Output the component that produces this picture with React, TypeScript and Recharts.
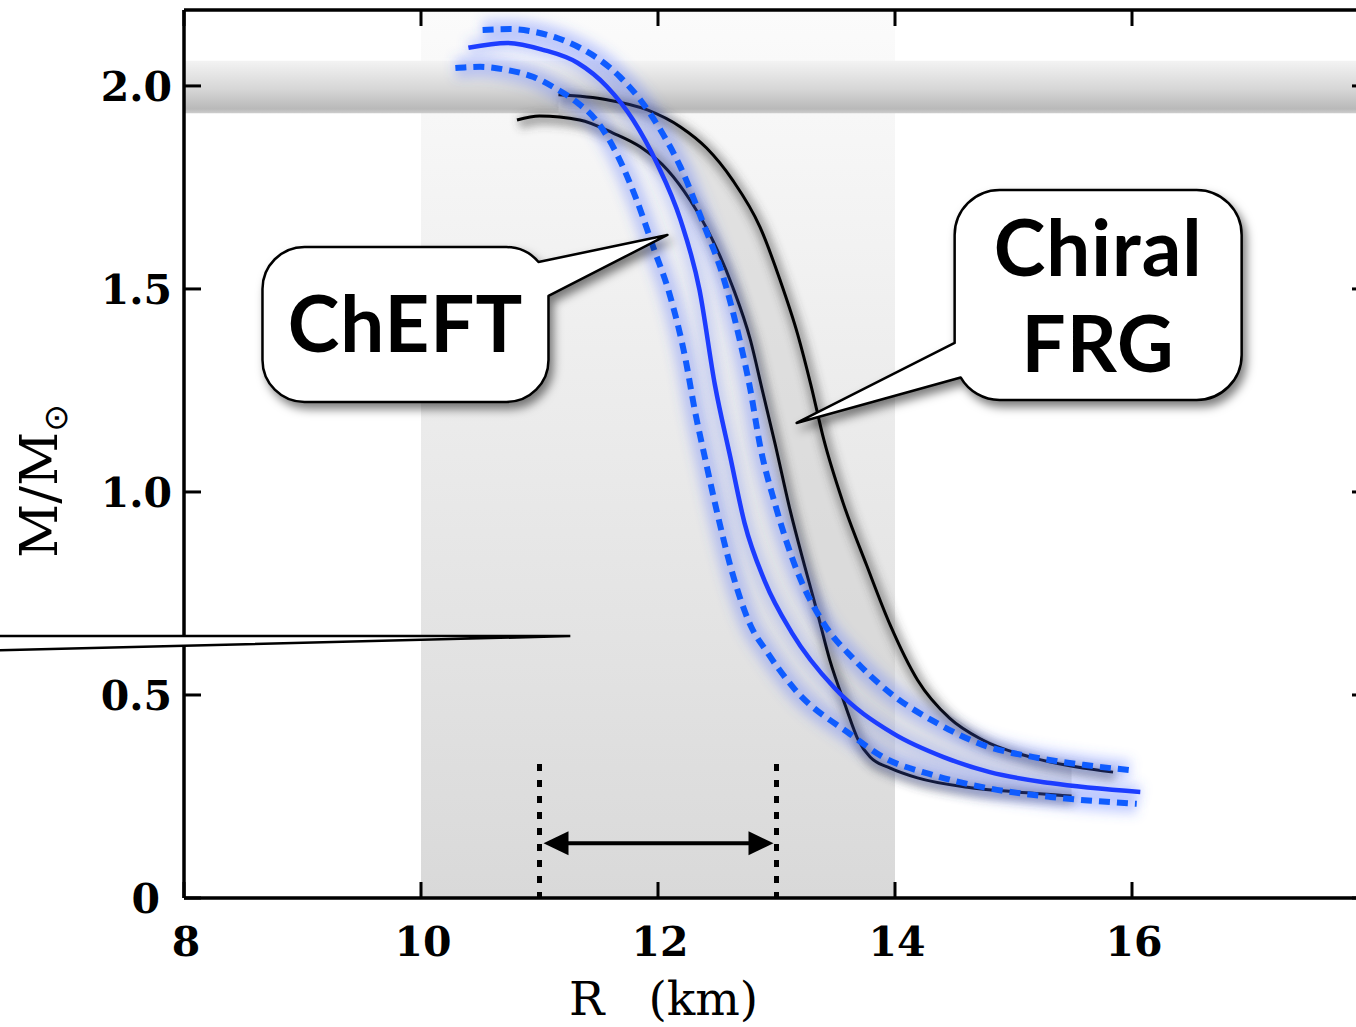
import React from 'react';
import {
  ComposedChart,
  Line,
  Area,
  XAxis,
  YAxis,
  Label,
  ReferenceArea,
  ReferenceLine,
  ReferenceDot,
} from 'recharts';

// axis ticks
const xTicks = [8, 10, 12, 14, 16];
const yTicks = [0, 0.5, 1, 1.5, 2];

// ChEFT band (blue): [R in km, M/Msun]
const chEftMid = [
  [10.4, 2.094], [10.73, 2.106], [11.03, 2.089], [11.32, 2.057], [11.57, 1.998],
  [11.79, 1.916], [11.99, 1.81], [12.19, 1.67], [12.35, 1.498], [12.48, 1.264],
  [12.61, 1.086], [12.73, 0.924], [12.9, 0.781], [13.13, 0.653], [13.49, 0.517],
  [13.98, 0.406], [14.41, 0.347], [14.8, 0.31], [15.31, 0.283], [16.07, 0.261],
];
const chEftUpper = [
  [10.52, 2.138], [10.75, 2.14], [10.96, 2.133], [11.15, 2.118], [11.34, 2.094],
  [11.51, 2.064], [11.68, 2.022], [11.85, 1.966], [12.02, 1.892], [12.19, 1.8],
  [12.38, 1.663], [12.55, 1.53], [12.69, 1.374], [12.78, 1.251], [12.86, 1.116],
  [12.99, 0.968], [13.17, 0.808], [13.39, 0.68], [13.66, 0.586], [13.98, 0.5],
  [14.34, 0.433], [14.74, 0.377], [15.17, 0.347], [15.59, 0.328], [15.98, 0.315],
];
const chEftLower = [
  [10.29, 2.044], [10.5, 2.047], [10.73, 2.039], [10.95, 2.022], [11.13, 1.995],
  [11.3, 1.963], [11.49, 1.911], [11.66, 1.828], [11.82, 1.719], [11.96, 1.603],
  [12.1, 1.485], [12.23, 1.33], [12.31, 1.202], [12.4, 1.079], [12.5, 0.948],
  [12.62, 0.808], [12.78, 0.672], [12.92, 0.606], [13.16, 0.512], [13.62, 0.404],
  [13.9, 0.347], [14.32, 0.303], [14.74, 0.273], [15.31, 0.249], [16.04, 0.232],
];

// Chiral FRG (black) boundaries
const frgLeft = [
  [10.81, 1.916], [11.0, 1.926], [11.34, 1.916], [11.62, 1.884], [11.85, 1.85],
  [12.08, 1.793], [12.27, 1.719], [12.46, 1.621], [12.63, 1.505], [12.78, 1.374],
  [12.88, 1.251], [12.99, 1.116], [13.11, 0.961], [13.24, 0.815], [13.35, 0.697],
  [13.45, 0.586], [13.58, 0.475], [13.69, 0.389], [13.79, 0.347], [13.96, 0.32],
  [14.19, 0.296], [14.61, 0.273], [15.03, 0.261], [15.49, 0.251],
];
const frgRight = [
  [11.16, 1.978], [11.57, 1.966], [11.91, 1.941], [12.19, 1.899], [12.41, 1.847],
  [12.63, 1.768], [12.86, 1.653], [13.03, 1.522], [13.18, 1.387], [13.29, 1.264],
  [13.4, 1.128], [13.56, 0.975], [13.76, 0.82], [13.96, 0.672], [14.19, 0.537],
  [14.46, 0.443], [14.74, 0.389], [15.17, 0.345], [15.84, 0.31],
];
// gray gap between the two FRG curves: R, lower M, upper M
const frgGapR = [11.16, 11.6, 12.0, 12.4, 12.8, 13.0, 13.2, 13.4, 13.6, 13.8, 14.0, 14.2, 14.6, 15.0, 15.49];
const frgGapLo = [1.92, 1.886, 1.81, 1.655, 1.35, 1.105, 0.86, 0.64, 0.46, 0.345, 0.317, 0.296, 0.274, 0.262, 0.251];
const frgGapHi = [1.978, 1.965, 1.93, 1.85, 1.685, 1.545, 1.375, 1.13, 0.94, 0.79, 0.65, 0.53, 0.425, 0.36, 0.334];

// shaded regions and markers
const radiusBand = [10, 14];
const maxMassBand = [1.933, 2.062];
const arrowRange = [11, 13];
const arrowMass = 0.135;
const dottedTop = 0.33;

// callout tips
const cheftTip = [12.08, 1.633];
const frgTip = [13.17, 1.17];
const outerTip = [11.26, 0.645];

const toPts = (arr: number[][]) => arr.map(([x, y]) => ({ x, y }));
const gapData = frgGapR.map((x, i) => ({ x, range: [frgGapLo[i], frgGapHi[i]] }));

const serif = 'DejaVu Serif';
const sans = 'Lato, "Open Sans", sans-serif';

const BottomTick = (p: any) => (
  <g>
    <line x1={p.x} y1={p.y} x2={p.x} y2={p.y - 16} stroke="#000" strokeWidth={3} />
    <text x={p.x + 2} y={p.y + 58} textAnchor="middle" fontFamily={serif} fontWeight="bold" fontSize={41} fill="#000">
      {p.payload.value}
    </text>
  </g>
);

const TopTick = (p: any) => (
  <line x1={p.x} y1={p.y} x2={p.x} y2={p.y + 16} stroke="#000" strokeWidth={3} />
);

const LeftTick = (p: any) => {
  const v = p.payload.value;
  return (
    <g>
      <line x1={p.x} y1={p.y} x2={p.x + 17} y2={p.y} stroke="#000" strokeWidth={3} />
      <text x={v === 0 ? p.x - 24 : p.x - 12} y={p.y + 15} textAnchor="end" fontFamily={serif} fontWeight="bold" fontSize={41} fill="#000">
        {v === 0 ? '0' : v.toFixed(1)}
      </text>
    </g>
  );
};

const RightTick = (p: any) => (
  <line x1={p.x} y1={p.y} x2={p.x - 17} y2={p.y} stroke="#000" strokeWidth={3} />
);

const XTitle = (props: any) => {
  const vb = props.viewBox || { x: 184, y: 898 };
  return (
    <text x={vb.x + 385} y={vb.y + 117} fontFamily={serif} fontSize={47} fill="#000">
      R<tspan dx={44}>(km)</tspan>
    </text>
  );
};

const YTitle = (props: any) => {
  const vb = props.viewBox || { x: 184 };
  return (
    <text transform={`translate(${vb.x - 126},481) rotate(-90)`} textAnchor="middle" fontFamily={serif} fontSize={53} fill="#000">
      M/M<tspan fontSize={33} dy={10} fontFamily="DejaVu Sans">⊙</tspan>
    </text>
  );
};

const shadow = { filter: 'drop-shadow(4px 6px 5px rgba(0,0,0,0.5))' };
const calloutFont = { fontFamily: sans, fontWeight: 'bold' as const, fontSize: 78, letterSpacing: 1 };

// rounded box with a pointer at its upper right corner, tip at (0,0)
const CheftCallout = ({ cx, cy }: any) => {
  const L = -405, T = 12, R = -119, B = 167, r = 42;
  const d = `M ${L + r} ${T} H ${R - r} A ${r} ${r} 0 0 1 -129 27 L 0 0 L ${R} 61 V ${B - r} A ${r} ${r} 0 0 1 ${R - r} ${B} H ${L + r} A ${r} ${r} 0 0 1 ${L} ${B - r} V ${T + r} A ${r} ${r} 0 0 1 ${L + r} ${T} Z`;
  return (
    <g transform={`translate(${cx},${cy})`} style={shadow}>
      <path d={d} fill="#fff" stroke="#000" strokeWidth={2.5} strokeLinejoin="round" />
      <text x={(L + R) / 2} y={117} textAnchor="middle" fill="#000" {...calloutFont}>ChEFT</text>
    </g>
  );
};

const FrgCallout = ({ cx, cy }: any) => {
  const L = 158, T = -233, R = 445, B = -23, r = 45;
  const d = `M ${L + r} ${T} H ${R - r} A ${r} ${r} 0 0 1 ${R} ${T + r} V ${B - r} A ${r} ${r} 0 0 1 ${R - r} ${B} H ${L + r} A ${r} ${r} 0 0 1 164 -45.5 L 0 0 L ${L} -80 V ${T + r} A ${r} ${r} 0 0 1 ${L + r} ${T} Z`;
  return (
    <g transform={`translate(${cx},${cy})`} style={shadow}>
      <path d={d} fill="#fff" stroke="#000" strokeWidth={2.5} strokeLinejoin="round" />
      <text x={(L + R) / 2} y={-147} textAnchor="middle" fill="#000" {...calloutFont}>Chiral</text>
      <text x={(L + R) / 2} y={-51} textAnchor="middle" fill="#000" {...calloutFont}>FRG</text>
    </g>
  );
};

const OuterPointer = ({ cx, cy }: any) => (
  <g transform={`translate(${cx},${cy})`}>
    <path d="M 0 0 L -600 0 L -600 15 Z" fill="#fff" stroke="#000" strokeWidth={2.5} strokeLinejoin="miter" />
  </g>
);

const DoubleArrow = (p: any) => {
  const y = p.y1;
  const a = Math.min(p.x1, p.x2) + 4;
  const b = Math.max(p.x1, p.x2) - 3;
  const len = 25, half = 12;
  return (
    <g>
      <line x1={a + len - 2} y1={y} x2={b - len + 2} y2={y} stroke="#000" strokeWidth={4} />
      <path d={`M ${a} ${y} L ${a + len} ${y - half} L ${a + len} ${y + half} Z`} fill="#000" />
      <path d={`M ${b} ${y} L ${b - len} ${y - half} L ${b - len} ${y + half} Z`} fill="#000" />
    </g>
  );
};

const blueSolid = '#1c3cff';
const blueDash = '#0f5cff';
const axisLine = { stroke: '#000', strokeWidth: 3.5 };

export default function App() {
  return (
    <div style={{ position: 'absolute', left: 0, top: 0, width: 1356, height: 1027, overflow: 'hidden', background: '#fff' }}>
      <ComposedChart width={1400} height={1027} margin={{ top: 9, right: 30, bottom: 128, left: 183 }}>
        <defs>
          <linearGradient id="regionGrad" x1="0" y1="0" x2="0" y2="1">
            <stop offset="0%" stopColor="#fbfbfb" />
            <stop offset="100%" stopColor="#d9d9d9" />
          </linearGradient>
          <linearGradient id="bandGrad" x1="0" y1="0" x2="0" y2="1">
            <stop offset="0%" stopColor="#f3f3f3" />
            <stop offset="55%" stopColor="#d6d6d6" />
            <stop offset="92%" stopColor="#b9b9b9" />
            <stop offset="100%" stopColor="#cdcdcd" />
          </linearGradient>
          <filter id="glow" filterUnits="userSpaceOnUse" x="0" y="0" width="1400" height="1027">
            <feGaussianBlur stdDeviation="6" />
          </filter>
          <filter id="shade" filterUnits="userSpaceOnUse" x="0" y="0" width="1400" height="1027">
            <feGaussianBlur stdDeviation="4" />
            <feOffset dx="2" dy="3" />
          </filter>
        </defs>

        <ReferenceArea x1={radiusBand[0]} x2={radiusBand[1]} fill="url(#regionGrad)" fillOpacity={1} stroke="none" />
        <ReferenceArea y1={maxMassBand[0]} y2={maxMassBand[1]} fill="url(#bandGrad)" fillOpacity={1} stroke="none" />

        <Area data={gapData} dataKey="range" type="monotone" fill="#d4d4d4" fillOpacity={0.6} stroke="none" isAnimationActive={false} />

        <Line data={toPts(frgLeft)} dataKey="y" type="monotone" stroke="#444" strokeOpacity={0.45} strokeWidth={12} dot={false} activeDot={false} filter="url(#shade)" isAnimationActive={false} />
        <Line data={toPts(frgRight)} dataKey="y" type="monotone" stroke="#444" strokeOpacity={0.45} strokeWidth={12} dot={false} activeDot={false} filter="url(#shade)" isAnimationActive={false} />
        <Line data={toPts(frgLeft)} dataKey="y" type="monotone" stroke="#000" strokeWidth={3} dot={false} activeDot={false} isAnimationActive={false} />
        <Line data={toPts(frgRight)} dataKey="y" type="monotone" stroke="#000" strokeWidth={3} dot={false} activeDot={false} isAnimationActive={false} />

        <Line data={toPts(chEftUpper)} dataKey="y" type="monotone" stroke="#4d6dff" strokeOpacity={0.32} strokeWidth={20} dot={false} activeDot={false} filter="url(#glow)" isAnimationActive={false} />
        <Line data={toPts(chEftLower)} dataKey="y" type="monotone" stroke="#4d6dff" strokeOpacity={0.32} strokeWidth={20} dot={false} activeDot={false} filter="url(#glow)" isAnimationActive={false} />
        <Line data={toPts(chEftMid)} dataKey="y" type="monotone" stroke="#4d6dff" strokeOpacity={0.25} strokeWidth={16} dot={false} activeDot={false} filter="url(#glow)" isAnimationActive={false} />

        <Line data={toPts(chEftUpper)} dataKey="y" type="monotone" stroke={blueDash} strokeWidth={6} strokeDasharray="11 7" dot={false} activeDot={false} isAnimationActive={false} />
        <Line data={toPts(chEftLower)} dataKey="y" type="monotone" stroke={blueDash} strokeWidth={6} strokeDasharray="11 7" dot={false} activeDot={false} isAnimationActive={false} />
        <Line data={toPts(chEftMid)} dataKey="y" type="monotone" stroke={blueSolid} strokeWidth={4.5} dot={false} activeDot={false} isAnimationActive={false} />

        <ReferenceLine segment={[{ x: arrowRange[0], y: dottedTop }, { x: arrowRange[0], y: 0 }]} stroke="#000" strokeWidth={5} strokeDasharray="7 9" />
        <ReferenceLine segment={[{ x: arrowRange[1], y: dottedTop }, { x: arrowRange[1], y: 0 }]} stroke="#000" strokeWidth={5} strokeDasharray="7 9" />
        <ReferenceLine segment={[{ x: arrowRange[0], y: arrowMass }, { x: arrowRange[1], y: arrowMass }]} shape={DoubleArrow} />

        <XAxis type="number" dataKey="x" domain={[8, 18]} ticks={xTicks} interval={0} allowDataOverflow height={1} tickSize={0} tickMargin={0} tickLine={false} tick={BottomTick} axisLine={axisLine}>
          <Label content={XTitle} />
        </XAxis>
        <XAxis xAxisId="top" orientation="top" type="number" dataKey="x" domain={[8, 18]} ticks={xTicks} interval={0} allowDataOverflow height={1} tickSize={0} tickMargin={0} tickLine={false} tick={TopTick} axisLine={axisLine} />
        <YAxis type="number" domain={[0, 2.187]} ticks={yTicks} interval={0} allowDataOverflow width={1} tickSize={0} tickMargin={0} tickLine={false} tick={LeftTick} axisLine={axisLine}>
          <Label content={YTitle} />
        </YAxis>
        <YAxis yAxisId="right" orientation="right" type="number" domain={[0, 2.187]} ticks={yTicks} interval={0} allowDataOverflow width={1} tickSize={0} tickMargin={0} tickLine={false} tick={RightTick} axisLine={axisLine} />

        <ReferenceDot x={outerTip[0]} y={outerTip[1]} r={0} ifOverflow="visible" shape={OuterPointer} />
        <ReferenceDot x={cheftTip[0]} y={cheftTip[1]} r={0} ifOverflow="visible" shape={CheftCallout} />
        <ReferenceDot x={frgTip[0]} y={frgTip[1]} r={0} ifOverflow="visible" shape={FrgCallout} />
      </ComposedChart>
    </div>
  );
}
